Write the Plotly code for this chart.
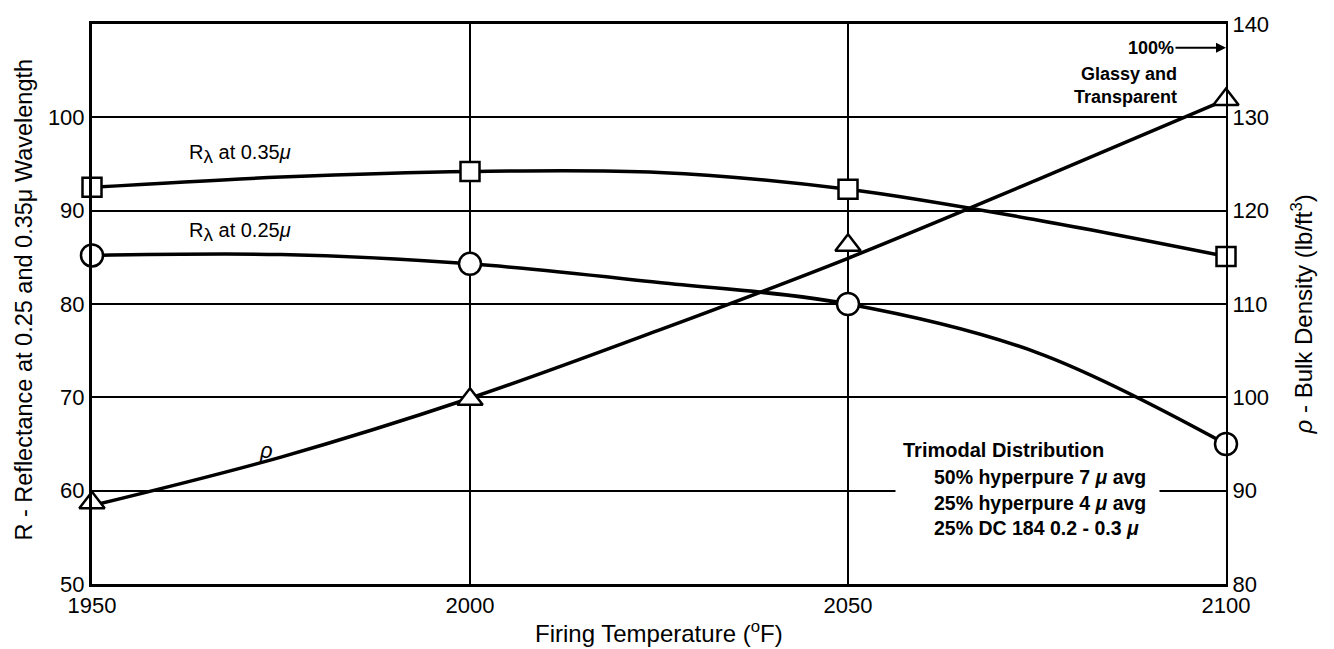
import plotly.graph_objects as go

# ---- data ----
temps = [1950, 2000, 2050, 2100]                     # measured points (degF)
r35_pts = [92.5, 94.2, 92.3, 85.1]                   # R_lambda at 0.35 micron (%)
r25_pts = [85.2, 84.3, 80.0, 65.0]                   # R_lambda at 0.25 micron (%)
rho_pts = [88.7, 99.8, 116.3, 131.9]                 # bulk density (lb/ft3)

curve_t = [1950, 1975, 2000, 2025, 2050, 2075, 2100]  # faired curves
r35_curve = [92.5, 93.6, 94.2, 94.1, 92.3, 89.0, 85.1]
r25_curve = [85.2, 85.3, 84.3, 82.3, 80.0, 74.8, 65.0]
rho_curve = [88.4, 93.6, 99.9, 107.2, 114.9, 123.3, 131.9]

x_ticks = [1950, 2000, 2050, 2100]
y_left_ticks = [50, 60, 70, 80, 90, 100]
y_right_ticks = [80, 90, 100, 110, 120, 130, 140]

FONT = "Liberation Sans, Arial, sans-serif"
W, H = 1334, 649
L, R, T, B = 92, 1226, 19, 584


def px(xp):
    return (xp - L) / (R - L)


def py(yp):
    return (B - yp) / (B - T)


fig = go.Figure()
line_style = dict(color="black", width=3.5)
for ys, yax in [(r35_curve, "y"), (r25_curve, "y"), (rho_curve, "y2")]:
    fig.add_trace(go.Scatter(x=curve_t, y=ys, yaxis=yax, mode="lines",
                             line=dict(shape="spline", **line_style),
                             hoverinfo="skip", showlegend=False))

mk_line = dict(color="black", width=2.5)
fig.add_trace(go.Scatter(x=temps, y=r35_pts, mode="markers", showlegend=False, cliponaxis=False,
                         marker=dict(symbol="square", size=19, color="white", line=mk_line)))
fig.add_trace(go.Scatter(x=temps, y=r25_pts, mode="markers", showlegend=False, cliponaxis=False,
                         marker=dict(symbol="circle", size=22, color="white", line=mk_line)))
fig.add_trace(go.Scatter(x=temps, y=rho_pts, yaxis="y2", mode="markers", showlegend=False,
                         cliponaxis=False,
                         marker=dict(symbol="triangle-up", size=22, color="white", line=mk_line)))

tick_font = dict(family=FONT, size=22, color="black")
fig.update_layout(
    width=W, height=H,
    margin=dict(l=L, r=W - R, t=T, b=H - B),
    paper_bgcolor="white", plot_bgcolor="white",
    font=dict(family=FONT, color="black"),
    xaxis=dict(range=[1950, 2100], tickvals=x_ticks, tickfont=tick_font,
               showgrid=True, gridcolor="black", gridwidth=2,
               showline=True, linecolor="black", linewidth=3, mirror=True,
               ticks="", zeroline=False),
    yaxis=dict(range=[50, 110], tickvals=y_left_ticks, tickfont=tick_font,
               showgrid=True, gridcolor="black", gridwidth=2,
               showline=True, linecolor="black", linewidth=3,
               ticks="", zeroline=False),
    yaxis2=dict(range=[80, 140], tickvals=y_right_ticks, tickfont=tick_font,
                overlaying="y", side="right", showgrid=False,
                showline=True, linecolor="black", linewidth=2,
                ticks="", zeroline=False),
)

ann = []
# axis titles
ann.append(dict(text="Firing Temperature (<sup>o</sup>F)", xref="paper", yref="paper",
                x=0.5, y=py(632), xanchor="center", yanchor="middle", showarrow=False,
                font=dict(family=FONT, size=24)))
ann.append(dict(text="R - Reflectance at 0.25 and 0.35μ Wavelength", xref="paper", yref="paper",
                x=px(24), y=py(297), xanchor="center", yanchor="middle", showarrow=False,
                textangle=-90, font=dict(family=FONT, size=23.5)))
ann.append(dict(text="<i>ρ</i> - Bulk Density (lb/ft<sup>3</sup>)", xref="paper", yref="paper",
                x=px(1302), y=py(312), xanchor="center", yanchor="middle", showarrow=False,
                textangle=-90, font=dict(family=FONT, size=24)))
# curve labels
lab_font = dict(family=FONT, size=20)
sub_l = "<sub><span style='font-size:19px'>λ</span></sub>"
ann.append(dict(text="R" + sub_l + " at 0.35<i>μ</i>", xref="paper", yref="paper",
                x=px(187), y=py(150), xanchor="left", yanchor="middle", showarrow=False,
                font=lab_font))
ann.append(dict(text="R" + sub_l + " at 0.25<i>μ</i>", xref="paper", yref="paper",
                x=px(187), y=py(229), xanchor="left", yanchor="middle", showarrow=False,
                font=lab_font))
ann.append(dict(text="<i>ρ</i>", xref="paper", yref="paper", x=px(266), y=py(449),
                xanchor="center", yanchor="middle", showarrow=False,
                font=dict(family=FONT, size=22)))
# 100% glassy note
note_font = dict(family=FONT, size=18)
ann.append(dict(text="<b>100%</b>", xref="x", yref="y2", x=2100, y=140 - (43 - T) / 9.42,
                ax=-75, ay=0, showarrow=True, arrowhead=2, arrowsize=1, arrowwidth=2,
                arrowcolor="black", font=note_font, xanchor="center"))
ann.append(dict(text="<b>Glassy and<br>Transparent</b>", xref="paper", yref="paper",
                x=px(1179), y=py(81), xanchor="right", yanchor="middle", align="right",
                showarrow=False, font=note_font))
# gap in the 60 gridline behind the distribution note
ann.append(dict(text=" ", xref="paper", yref="y", x=px(895), y=60, xanchor="left",
                yanchor="middle", width=263, height=8, bgcolor="white", borderpad=0,
                showarrow=False, font=dict(size=4)))
# distribution note
ann.append(dict(text="<b>Trimodal Distribution</b>", xref="paper", yref="paper",
                x=px(901), y=py(449), xanchor="left", yanchor="middle", showarrow=False,
                font=dict(family=FONT, size=20)))
rows = ["<b>50% hyperpure 7 <i>μ</i> avg</b>", "<b>25% hyperpure 4 <i>μ</i> avg</b>",
        "<b>25% DC 184 0.2 - 0.3 <i>μ</i></b>"]
for txt, yy in zip(rows, [476, 502, 527]):
    ann.append(dict(text=txt, xref="paper", yref="paper", x=px(932), y=py(yy),
                    xanchor="left", yanchor="middle", showarrow=False,
                    font=dict(family=FONT, size=19.5)))

fig.update_layout(annotations=ann)
fig.write_html("out.html")
